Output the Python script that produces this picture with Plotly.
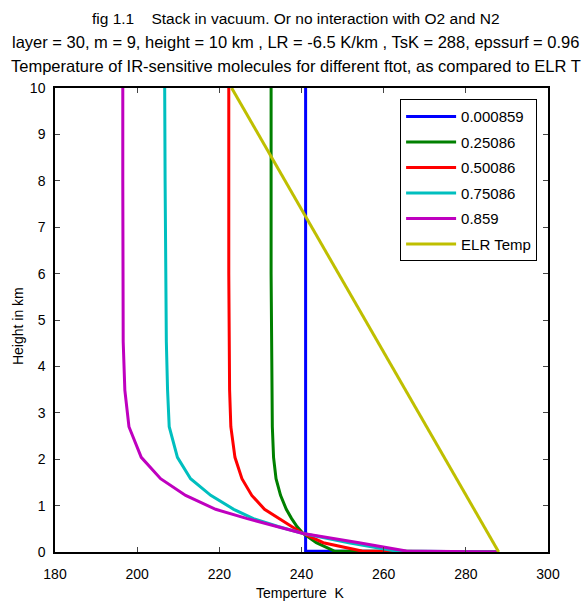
import plotly.graph_objects as go

# Shared layer heights (km)
heights = [0, 0.02, 0.2, 0.40, 0.55, 0.72, 0.92, 1.22, 1.58, 2.04, 2.70, 3.49, 4.53, 6.0, 8.0, 10.0]

T_0000859 = [288, 241.0, 241.0, 241.0, 241.0, 241.0, 241.0, 241.0, 241.0, 241.0, 241.0, 241.0, 241.0, 241.0, 241.0, 241.0]
T_025086 = [288, 248.0, 243.6, 240.4, 238.9, 237.6, 236.3, 234.9, 233.8, 233.2, 232.9, 232.8, 232.7, 232.6, 232.6, 232.6]
T_050086 = [288, 254.7, 245.3, 240.4, 237.6, 234.6, 231.0, 227.9, 225.5, 223.8, 222.8, 222.5, 222.4, 222.3, 222.3, 222.3]
T_075086 = [288, 263.0, 251.5, 240.4, 234.3, 228.3, 223.5, 217.9, 213.0, 209.8, 207.8, 207.4, 207.1, 206.9, 206.8, 206.7]
T_0859 = [288, 265.5, 254.0, 240.4, 234.0, 226.8, 219.1, 211.8, 205.7, 201.0, 198.0, 197.0, 196.6, 196.5, 196.5, 196.5]

elr_heights = [0, 10]
elr_T = [288, 223]

series_names = ["0.000859", "0.25086", "0.50086", "0.75086", "0.859"]
series_T = [T_0000859, T_025086, T_050086, T_075086, T_0859]
colors = ["#0000ff", "#008000", "#ff0000", "#00bfbf", "#bf00bf"]
elr_color = "#bfbf00"

x_ticks = [180, 200, 220, 240, 260, 280, 300]
y_ticks = list(range(0, 11))

title_lines = [
    "fig 1.1    Stack in vacuum. Or no interaction with O2 and N2",
    "layer = 30, m = 9, height = 10 km , LR = -6.5 K/km , TsK = 288, epssurf = 0.96",
    "Temperature of IR-sensitive molecules for different ftot, as compared to ELR T",
]
x_title = "Temperture  K"
y_title = "Height in km"

FONT = "Liberation Sans Narrow, Arial Narrow, Liberation Sans, sans-serif"

fig = go.Figure()
for i, (name, T, c) in enumerate(zip(series_names, series_T, colors)):
    fig.add_trace(go.Scatter(x=T, y=heights, mode="lines", name=name,
                             legendgroup=f"g{i}",
                             line=dict(color=c, width=3)))
fig.add_trace(go.Scatter(x=elr_T, y=elr_heights, mode="lines", name="ELR Temp",
                         legendgroup="elr",
                         line=dict(color=elr_color, width=3)))

title_y = [1.149, 1.099, 1.047]
title_sizes = [15.5, 16.5, 16.5]
for txt, yy, sz in zip(title_lines, title_y, title_sizes):
    fig.add_annotation(text=txt, xref="paper", yref="paper", x=0.488, y=yy,
                       xanchor="center", yanchor="middle", showarrow=False,
                       font=dict(family=FONT, size=sz, color="black"))

fig.add_annotation(text=x_title, xref="paper", yref="paper", x=0.497, y=-0.088,
                   xanchor="center", yanchor="middle", showarrow=False,
                   font=dict(family=FONT, size=14, color="black"))
fig.add_annotation(text=y_title, xref="paper", yref="paper", x=-0.075, y=0.487,
                   xanchor="center", yanchor="middle", showarrow=False, textangle=-90,
                   font=dict(family=FONT, size=14, color="black"))

fig.update_layout(
    width=585, height=603,
    margin=dict(l=55, r=37, t=88, b=51),
    paper_bgcolor="white", plot_bgcolor="white",
    font=dict(family=FONT, size=14, color="black"),
    showlegend=True,
    legend=dict(x=0.70, y=0.976, xanchor="left", yanchor="top",
                bordercolor="black", borderwidth=1, bgcolor="white",
                tracegroupgap=3, itemwidth=50,
                font=dict(family=FONT, size=15, color="black")),
    xaxis=dict(range=[180, 300], tickvals=x_ticks, ticks="inside", ticklen=5,
               showline=True, linecolor="black", linewidth=1.5, mirror="ticks",
               showgrid=False, zeroline=False, ticklabelstandoff=8,
               automargin=False, tickfont=dict(family=FONT, size=14)),
    yaxis=dict(range=[0, 10], tickvals=y_ticks, ticks="inside", ticklen=5,
               showline=True, linecolor="black", linewidth=1.5, mirror="ticks",
               showgrid=False, zeroline=False, ticklabelstandoff=5,
               automargin=False, tickfont=dict(family=FONT, size=14)),
)

fig.write_html("out.html")
